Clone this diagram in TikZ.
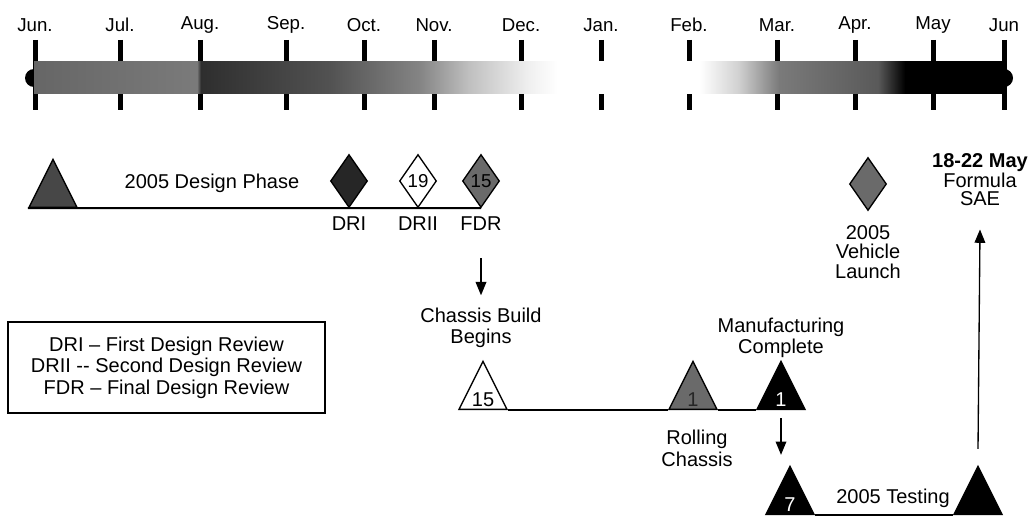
\documentclass[tikz,border=0pt]{standalone}
\usepackage{fontspec}
\setmainfont{Liberation Sans}
\usetikzlibrary{positioning, arrows.meta, calc, shapes.geometric}
\definecolor{tlink}{HTML}{000000}
\definecolor{tlgray}{HTML}{6A6A6A}
\definecolor{tldark}{HTML}{262626}
\pgfdeclarehorizontalshading{monthbar}{100bp}{color(0bp)=(black!60); color(25bp)=(black!60); color(33.4bp)=(black!52); color(33.6bp)=(black!82); color(40.2bp)=(black!68); color(44.9bp)=(black!48); color(47.4bp)=(black!25); color(50.5bp)=(black!6); color(52bp)=(white); color(59.3bp)=(white); color(61.3bp)=(black!18); color(63.4bp)=(black!52); color(68.5bp)=(black!65); color(69.9bp)=(black); color(75bp)=(black); color(100bp)=(black)}
\tikzset{
  milestone/.style={isosceles triangle, isosceles triangle apex angle=53, isosceles triangle stretches, shape border rotate=90, draw=tlink, line width=1pt, inner sep=0pt, minimum width=36pt, minimum height=36pt, anchor=lower side},
  review/.style={diamond, draw=tlink, line width=1pt, inner sep=0pt, minimum width=27.75pt, minimum height=39.75pt, font=\fontsize{14}{14}\selectfont},
  phase/.style={draw=tlink, line width=1.5pt},
  flow/.style={-{Triangle[length=10pt,width=8pt]}, draw=tlink, line width=1pt},
  numtxt/.style={font=\fontsize{15}{15}\selectfont, inner sep=0pt}
}

\begin{document}
\begin{tikzpicture}[x=0.75pt, y=-0.75pt, every node/.style={font=\fontsize{15}{16}\selectfont, text=tlink}]
  \useasboundingbox (0,0) rectangle (1034,517);
  % month scale
  \foreach \x/\m in {35/Jun., 120/Jul., 200/Aug., 286/Sep., 364/Oct., 434/Nov., 521/Dec., 601/Jan., 689/Feb., 777/Mar., 855/Apr., 933/May, 1004/Jun} {
    \draw[line width=3.75pt, tlink] (\x,40) -- (\x,110);
    \node[font=\fontsize{14}{14}\selectfont] at (\x,25) {\m};
  }
  \fill[tlink] (34,78) circle[radius=6.75pt];
  \fill[tlink] (1004,78) circle[radius=6.75pt];
  \shade[shading=monthbar] (34,62) rectangle (1004,93);

  % design phase
  \node[milestone, fill=tldark!85] (dstart) at (53,208) {};
  \node[review, fill=tldark] (dr1) at (349,181) {};
  \node[review, fill=white] (dr2) at (418,181) {19};
  \node[review, fill=tlgray] (fdr) at (481,181) {15};
  \draw[phase] (dstart.left corner) -- (fdr.south);
  \node at (212,183) {2005 Design Phase};
  \node (dr1lbl) at (349,224) {DRI};
  \node (dr2lbl) at (418,224) {DRII};
  \node (fdrlbl) at (481,224) {FDR};
  \node[align=center] (cbtext) at (481,328) {Chassis Build\\Begins};
  \draw[flow] ([yshift=-17pt]fdrlbl.south) -- ([yshift=6pt]cbtext.north);

  % legend
  \node[draw=tlink, line width=0.8pt, minimum width=237.75pt, minimum height=68.25pt, align=center, font=\fontsize{15}{16}\selectfont] (legend) at (166.5,367.5) {DRI -- First Design Review\\DRII -{}- Second Design Review\\FDR -- Final Design Review};

  % manufacturing
  \node[milestone, fill=white] (cb) at (483,410) {};
  \node[milestone, fill=tlgray] (rolling) at (693,410) {};
  \node[milestone, fill=tlink] (mfg) at (781,410) {};
  \draw[phase] (cb.right corner) -- (rolling.left corner);
  \draw[phase] (rolling.right corner) -- (mfg.left corner);
  \node[numtxt] at ([yshift=8pt]cb.lower side) {15};
  \node[numtxt, text=tldark] at ([yshift=8pt]rolling.lower side) {1};
  \node[numtxt, text=white] at ([yshift=8pt]mfg.lower side) {1};
  \node[align=center] (mfgtext) at (781,338) {Manufacturing\\Complete};
  \node[align=center, font=\fontsize{15}{16.5}\selectfont] (rolltext) at (697,448) {Rolling\\Chassis};

  % testing
  \node[milestone, fill=tlink] (test) at (790,515) {};
  \node[milestone, fill=tlink] (fsae) at (978,515) {};
  \draw[phase] (test.right corner) -- (fsae.left corner);
  \node[numtxt, text=white] at ([yshift=8pt]test.lower side) {7};
  \node at (893,498) {2005 Testing};
  \draw[flow] ([yshift=-6pt]mfg.lower side) -- ($(test.apex -| mfg.lower side)+(0,-10)$);

  % launch and competition
  \node[review, fill=tlgray] (launch) at (868,184) {};
  \node[align=center, font=\fontsize{15}{14.5}\selectfont] (launchtext) at (868,252) {2005\\Vehicle\\Launch};
  \node[align=center, font=\fontsize{15}{13.5}\selectfont] (fsaetext) at (980,180) {\textbf{18-22 May}\\Formula\\SAE};
  \draw[flow] ([yshift=12pt]fsae.apex) -- ([yshift=-14pt]fsaetext.south);
\end{tikzpicture}
\end{document}
